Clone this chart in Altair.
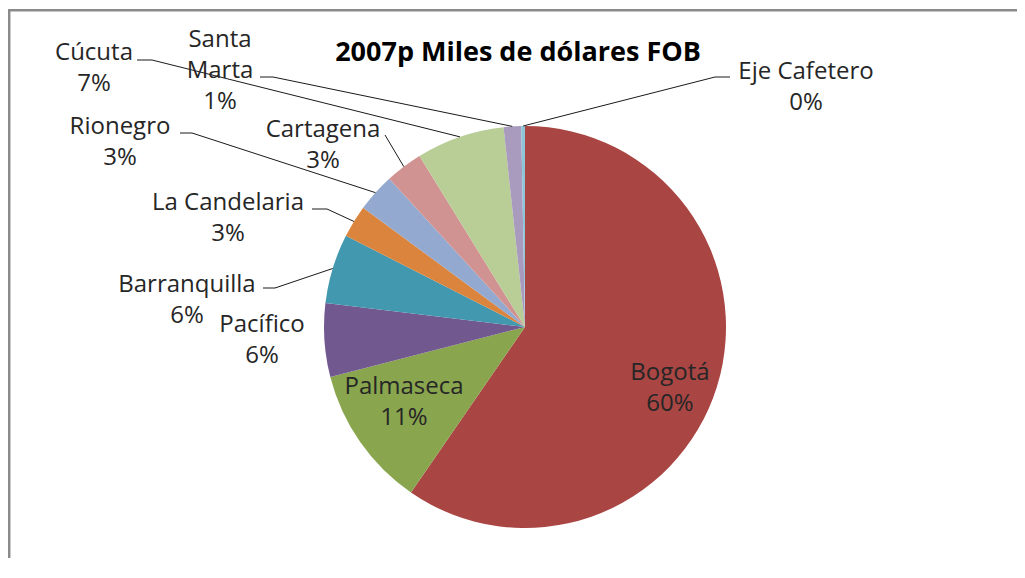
import altair as alt
import pandas as pd
import numpy as np

# ---- data (shares of total, %) ----
names = ["Bogotá", "Palmaseca", "Pacífico", "Barranquilla", "La Candelaria",
         "Rionegro", "Cartagena", "Cúcuta", "Santa Marta", "Eje Cafetero"]
shares = [59.6, 11.4, 5.9, 5.6, 2.6, 3.1, 3.0, 7.1, 1.4, 0.3]
colors = ["#A94543", "#89A54E", "#71588F", "#4198AF", "#DB843D",
          "#93A9CF", "#D19392", "#B9CD96", "#A99BBD", "#8FC5D9"]
title_text = "2007p Miles de dólares FOB"

# ---- layout (page pixels) ----
CX, CY, R = 525, 327, 201
W, H = 1009, 550
label_x = [670, 404, 262, 187, 228, 120, 323, 94, 220, 806]
label_y = [373, 387, 325, 285, 203, 127, 130, 53, 40, 72]   # first-line centres
wrap_names = ["Santa Marta"]
leader_anchors = {
    "Barranquilla": [(263, 288), (275, 288)],
    "La Candelaria": [(312, 209), (327, 209)],
    "Rionegro": [(180, 133), (192, 133)],
    "Cartagena": [(385, 135)],
    "Cúcuta": [(137, 60), (152, 60)],
    "Santa Marta": [(260, 77), (273, 77)],
    "Eje Cafetero": [(730, 77), (715, 77)],
}
# frame: left edge and top edge of the chart box (page pixels)
frame_segs = pd.DataFrame({"x": [9.2, 8], "y": [10.2, 10.2],
                           "x2": [9.2, 8 + W], "y2": [8 + H, 10.2]})

total = sum(shares)
pie = pd.DataFrame({"name": names, "share": shares, "idx": range(len(names))})
pie["pct"] = (pie["share"] / total * 100).round().astype(int)

cum = np.cumsum(shares)
mid = (cum - np.array(shares) / 2) / total * 2 * np.pi
edge_x = CX + R * np.sin(mid)
edge_y = CY - R * np.cos(mid)

labels = pd.DataFrame({
    "x": label_x,
    "y": label_y,
    "text": [(n.replace(" ", "\n") if n in wrap_names else n) + "\n" + f"{p}%"
             for n, p in zip(names, pie["pct"])],
})

segs = []
for i, n in enumerate(names):
    if n not in leader_anchors:
        continue
    pts = leader_anchors[n] + [(edge_x[i], edge_y[i])]
    for (a, b), (c, d) in zip(pts[:-1], pts[1:]):
        segs.append({"x": a, "y": b, "x2": c, "y2": d})
segs = pd.DataFrame(segs)

xs = alt.Scale(domain=[8, 8 + W], nice=False, zero=False)
ys = alt.Scale(domain=[8, 8 + H], nice=False, zero=False, reverse=True)

frame = alt.Chart(frame_segs).mark_rule(color="#8a8a8a", strokeWidth=2.5).encode(
    x=alt.X("x:Q", scale=xs, axis=None),
    y=alt.Y("y:Q", scale=ys, axis=None),
    x2="x2:Q", y2="y2:Q",
)

arcs = alt.Chart(pie).mark_arc(radius=R, x=CX - 8, y=CY - 8).encode(
    theta=alt.Theta("share:Q", stack=True),
    order=alt.Order("idx:Q"),
    color=alt.Color("name:N", scale=alt.Scale(domain=names, range=colors), legend=None),
)

leaders = alt.Chart(segs).mark_rule(color="#1a1a1a", strokeWidth=1).encode(
    x=alt.X("x:Q", scale=xs, axis=None),
    y=alt.Y("y:Q", scale=ys, axis=None),
    x2="x2:Q", y2="y2:Q",
)

text = alt.Chart(labels).mark_text(
    align="center", baseline="middle", lineBreak="\n", font="Open Sans",
    fontSize=24, lineHeight=31, color="#262626",
).encode(
    x=alt.X("x:Q", scale=xs, axis=None),
    y=alt.Y("y:Q", scale=ys, axis=None),
    text="text:N",
)

title = alt.Chart(pd.DataFrame({"x": [518], "y": [61], "t": [title_text]})).mark_text(
    align="center", baseline="alphabetic", font="Open Sans", fontSize=27,
    fontWeight="bold", color="#000000",
).encode(
    x=alt.X("x:Q", scale=xs, axis=None),
    y=alt.Y("y:Q", scale=ys, axis=None),
    text="t:N",
)

chart = alt.layer(frame, arcs, leaders, text, title).properties(
    width=W, height=H, padding=0, background="white",
    autosize=alt.AutoSizeParams(type="none"),
).configure_view(stroke="transparent", strokeWidth=0)

chart.save("out.html", embed_options={"renderer": "svg", "actions": False})
